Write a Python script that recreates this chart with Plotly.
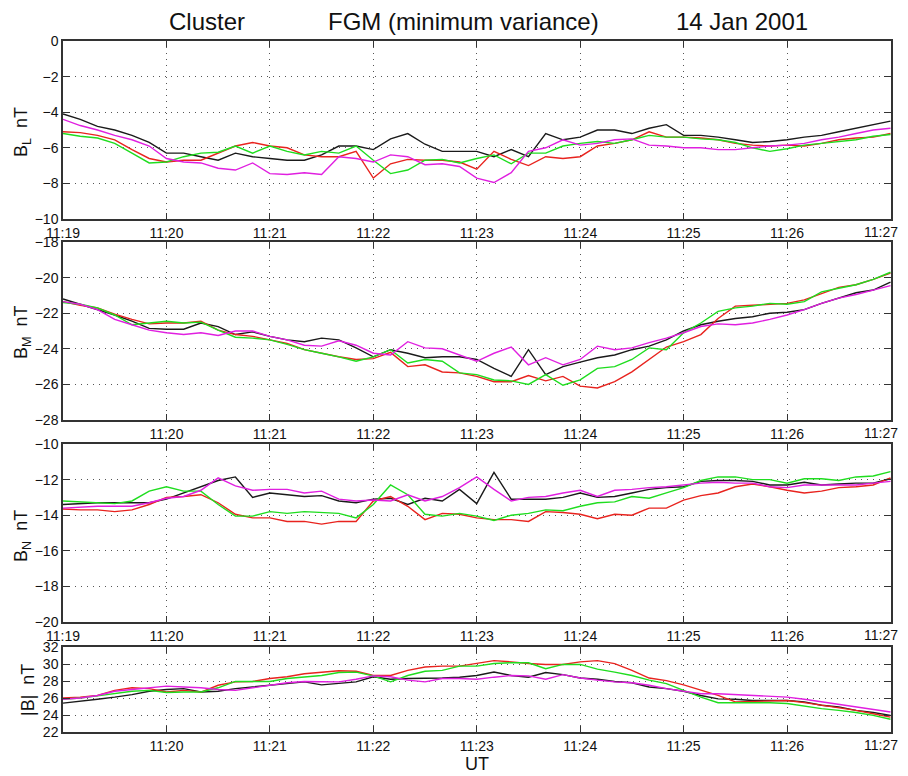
import pandas as pd
import plotly.graph_objects as go
from plotly.subplots import make_subplots

# Cluster FGM, 14 Jan 2001, minimum variance frame; one sample every 10 s, 11:19:00-11:27:00 UT
times = pd.date_range("2001-01-14 11:19:00", "2001-01-14 11:27:00", freq="10s")

minute_ticks = ["2001-01-14 11:%02d" % m for m in range(19, 28)]
minute_labels = ["11:19", "11:20", "11:21", "11:22", "11:23", "11:24", "11:25", "11:26", "11:27"]
x_range = ["2001-01-14 11:19:00", "2001-01-14 11:27:00.3"]

# B_L (nT)
bl_c1 = [-4.1, -4.4, -4.8, -5.0, -5.3, -5.7, -6.3, -6.3, -6.5, -6.7, -6.3, -6.5, -6.6, -6.7, -6.7, -6.4,
         -5.9, -5.9, -6.1, -5.5, -5.2, -5.8, -6.2, -6.2, -6.2, -6.5, -6.1, -6.5, -5.2, -5.55, -5.4, -5.0,
         -5.0, -5.2, -4.9, -4.7, -5.3, -5.3, -5.4, -5.55, -5.7, -5.65, -5.55, -5.4, -5.3, -5.1, -4.9, -4.7, -4.5]
bl_c2 = [-5.1, -5.15, -5.3, -5.55, -6.1, -6.6, -6.8, -6.7, -6.7, -6.3, -5.9, -5.7, -5.9, -6.0, -6.4, -6.5,
         -6.5, -6.2, -7.7, -6.9, -6.65, -6.7, -6.7, -6.8, -7.2, -6.2, -6.65, -7.0, -6.5, -6.6, -6.5, -5.9,
         -5.75, -5.55, -5.1, -5.4, -5.4, -5.45, -5.55, -5.75, -5.85, -5.9, -5.85, -5.9, -5.75, -5.55, -5.45, -5.4, -5.2]
bl_c3 = [-5.2, -5.35, -5.45, -5.75, -6.3, -6.85, -6.8, -6.5, -6.3, -6.25, -5.9, -6.3, -5.9, -6.2, -6.4, -6.2,
         -6.3, -5.9, -6.7, -7.45, -7.25, -6.7, -6.65, -6.85, -6.6, -6.4, -6.9, -6.3, -6.3, -5.9, -5.75, -5.65,
         -5.75, -5.55, -5.3, -5.4, -5.4, -5.5, -5.55, -5.7, -6.0, -6.2, -6.05, -5.85, -5.75, -5.65, -5.55, -5.35, -5.25]
bl_c4 = [-4.4, -4.75, -5.0, -5.3, -5.55, -5.9, -6.6, -6.8, -6.85, -7.15, -7.25, -6.85, -7.45, -7.5, -7.4, -7.5,
         -6.5, -6.6, -6.8, -6.4, -6.5, -6.95, -6.9, -7.05, -7.7, -7.95, -7.4, -6.2, -6.0, -5.55, -5.85, -5.75,
         -5.55, -5.5, -5.85, -5.9, -6.0, -6.0, -6.1, -6.1, -6.0, -5.9, -5.85, -5.75, -5.55, -5.4, -5.2, -5.0, -4.9]

# B_M (nT)
bm_c1 = [-21.2, -21.5, -21.8, -22.1, -22.45, -22.85, -22.9, -22.9, -22.55, -22.75, -23.2, -23.05, -23.3, -23.5,
         -23.6, -23.4, -23.5, -23.95, -24.45, -24.05, -24.25, -24.5, -24.45, -24.45, -24.6, -25.1, -25.55, -24.05,
         -25.45, -25.0, -24.75, -24.5, -24.35, -24.05, -23.85, -23.5, -23.0, -22.65, -22.45, -22.3, -22.2, -22.0,
         -21.95, -21.8, -21.45, -21.15, -20.85, -20.7, -20.25]
bm_c2 = [-21.35, -21.55, -21.7, -22.05, -22.35, -22.6, -22.55, -22.55, -22.45, -22.95, -23.2, -23.3, -23.5, -23.7,
         -24.05, -24.25, -24.45, -24.6, -24.55, -24.2, -25.0, -24.9, -25.3, -25.35, -25.55, -25.85, -25.85, -25.5,
         -25.8, -25.55, -26.1, -26.2, -25.85, -25.3, -24.6, -23.9, -23.6, -23.2, -22.3, -21.6, -21.55, -21.5,
         -21.45, -21.25, -20.9, -20.55, -20.4, -20.1, -19.75]
bm_c3 = [-21.4, -21.5, -21.7, -22.1, -22.65, -22.55, -22.45, -22.55, -22.5, -22.95, -23.35, -23.4, -23.5, -23.75,
         -24.05, -24.25, -24.45, -24.7, -24.45, -24.05, -24.8, -24.6, -24.7, -25.35, -25.45, -25.75, -25.8, -26.0,
         -25.45, -26.05, -25.75, -25.1, -25.0, -24.6, -23.95, -24.05, -23.1, -22.55, -21.9, -21.7, -21.6, -21.45,
         -21.5, -21.35, -20.8, -20.6, -20.4, -20.1, -19.7]
bm_c4 = [-21.35, -21.5, -21.8, -22.35, -22.65, -22.95, -23.1, -23.2, -23.1, -23.25, -23.0, -23.0, -23.3, -23.5,
         -23.8, -23.85, -23.55, -23.8, -24.25, -24.35, -23.6, -23.95, -24.0, -24.35, -24.7, -24.25, -23.9, -24.9,
         -24.5, -24.9, -24.6, -23.85, -24.05, -23.95, -23.65, -23.4, -23.1, -22.75, -22.6, -22.65, -22.55, -22.35,
         -22.1, -21.8, -21.45, -21.15, -20.95, -20.7, -20.45]

# B_N (nT)
bn_c1 = [-13.4, -13.35, -13.3, -13.3, -13.3, -13.3, -13.1, -12.75, -12.4, -12.05, -11.85, -13.0, -12.75, -12.85,
         -12.95, -12.9, -13.2, -13.3, -13.1, -13.05, -13.4, -13.05, -13.2, -12.55, -13.35, -11.6, -13.1, -13.1,
         -13.1, -13.0, -12.75, -13.0, -12.95, -12.75, -12.55, -12.45, -12.4, -12.1, -12.05, -12.05, -12.1, -12.3,
         -12.3, -12.15, -12.3, -12.25, -12.2, -12.2, -11.95]
bn_c2 = [-13.65, -13.7, -13.7, -13.8, -13.7, -13.4, -13.0, -12.95, -12.85, -13.3, -13.95, -14.15, -14.15, -14.35,
         -14.35, -14.5, -14.35, -14.35, -13.2, -12.95, -13.5, -14.25, -13.9, -13.95, -14.15, -14.25, -14.25, -14.35,
         -13.8, -13.85, -13.95, -14.2, -13.95, -14.0, -13.6, -13.6, -13.15, -12.9, -12.75, -12.4, -12.25, -12.4,
         -12.6, -12.75, -12.65, -12.45, -12.4, -12.3, -11.9]
bn_c3 = [-13.2, -13.25, -13.3, -13.35, -13.2, -12.65, -12.4, -12.65, -12.65, -13.4, -14.05, -14.05, -13.8, -13.9,
         -13.8, -13.85, -13.9, -14.15, -13.4, -12.3, -12.85, -13.95, -14.05, -13.9, -14.05, -14.3, -14.0, -13.9,
         -13.7, -13.75, -13.5, -13.3, -13.25, -12.95, -13.05, -12.75, -12.45, -12.05, -11.85, -11.85, -12.0, -12.0,
         -12.2, -11.95, -11.95, -12.05, -11.85, -11.8, -11.55]
bn_c4 = [-13.6, -13.55, -13.5, -13.5, -13.5, -13.3, -13.05, -12.95, -12.6, -11.9, -12.35, -12.6, -12.55, -12.55,
         -12.75, -12.65, -13.1, -13.2, -13.15, -13.2, -12.85, -13.2, -12.95, -12.45, -11.85, -12.55, -13.2, -13.0,
         -12.95, -12.75, -12.6, -12.95, -12.6, -12.55, -12.45, -12.4, -12.3, -12.2, -12.15, -12.2, -12.2, -12.4,
         -12.45, -12.3, -12.3, -12.3, -12.3, -12.2, -12.1]

# |B| (nT)
bt_c1 = [25.4, 25.6, 25.85, 26.1, 26.4, 26.8, 27.0, 27.1, 26.7, 26.8, 27.1, 27.3, 27.5, 27.7, 27.9, 27.55, 27.7,
         27.9, 28.5, 28.2, 28.3, 28.3, 28.35, 28.45, 28.65, 29.05, 28.65, 28.45, 29.0, 28.75, 28.35, 28.2, 27.95,
         27.8, 27.3, 27.1, 26.8, 26.3, 25.9, 25.85, 25.7, 25.7, 25.7, 25.55, 25.15, 24.95, 24.55, 24.3, 23.95]
bt_c2 = [26.0, 26.1, 26.3, 26.9, 27.2, 27.1, 26.7, 26.9, 26.7, 27.5, 27.9, 27.95, 28.3, 28.5, 28.85, 29.05, 29.2,
         29.15, 28.65, 28.65, 29.25, 29.65, 29.75, 29.75, 30.05, 30.4, 30.25, 30.05, 29.95, 29.95, 30.25, 30.4,
         30.05, 29.25, 28.35, 28.05, 27.55, 26.9, 26.3, 25.55, 25.6, 25.6, 25.7, 25.45, 25.15, 24.8, 24.55, 24.15, 23.75]
bt_c3 = [25.85, 26.0, 26.25, 26.5, 26.8, 26.9, 26.65, 26.7, 26.7, 27.2, 27.95, 27.95, 27.95, 28.3, 28.5, 28.65,
         29.0, 29.05, 28.6, 27.9, 28.65, 29.15, 29.25, 29.75, 29.75, 30.05, 30.15, 30.15, 29.45, 29.95, 29.95, 29.4,
         29.05, 28.65, 28.1, 27.7, 26.9, 26.1, 25.45, 25.45, 25.45, 25.45, 25.35, 25.05, 24.75, 24.55, 24.3, 23.95, 23.5]
bt_c4 = [25.85, 26.0, 26.3, 26.8, 27.0, 27.2, 27.4, 27.3, 27.2, 27.0, 26.9, 27.2, 27.5, 27.8, 27.95, 27.95, 27.9,
         28.2, 28.6, 28.5, 28.1, 27.9, 28.3, 28.3, 28.2, 28.45, 28.65, 28.6, 28.2, 28.75, 28.35, 28.1, 27.9, 27.8,
         27.5, 27.1, 26.8, 26.5, 26.5, 26.4, 26.3, 26.25, 26.1, 25.85, 25.55, 25.25, 24.95, 24.65, 24.35]

sc_colors = ["#1a1a1a", "#e8231e", "#1fdd1f", "#e01fe0"]
panels = [
    ([bl_c1, bl_c2, bl_c3, bl_c4], [-10, 0], "B<sub>L</sub>  nT", True),
    ([bm_c1, bm_c2, bm_c3, bm_c4], [-28, -18], "B<sub>M</sub>  nT", False),
    ([bn_c1, bn_c2, bn_c3, bn_c4], [-20, -10], "B<sub>N</sub>  nT", True),
    ([bt_c1, bt_c2, bt_c3, bt_c4], [22, 32], "|B|  nT", False),
]

# the page body puts the figure 8 px in from the window corner
W, H, OFF = 900, 768, 8
L, R = 55, 17
PW = W - L - R


def fy(py):
    # window pixel row -> paper fraction
    return 1 - (py - OFF) / H


def fx(px):
    return (px - OFF - L) / PW


# panel edges in window pixels (top, bottom), and y label centres
panel_px = [(41, 219), (242, 420), (444, 622), (647, 732)]
label_px = [(22, 132), (22, 332), (22, 536), (28, 690)]

FONT = "Liberation Sans, Arial, Helvetica, sans-serif"

fig = make_subplots(rows=4, cols=1)

for i, (series, yr, ylab, first_tick) in enumerate(panels):
    row = i + 1
    for vals, col in zip(series, sc_colors):
        fig.add_trace(go.Scatter(x=times, y=vals, mode="lines",
                                 line=dict(color=col, width=1.4), showlegend=False),
                      row=row, col=1)
    top, bot = panel_px[i]
    # last label (11:27) sits at the right window edge, so it is drawn as a right-aligned note
    tv = minute_ticks if first_tick else minute_ticks[1:]
    tt = (minute_labels if first_tick else minute_labels[1:])[:-1] + [""]
    fig.update_xaxes(range=x_range, tickvals=tv, ticktext=tt,
                     showgrid=True, gridcolor="#555", griddash="1px,5px", gridwidth=1,
                     ticks="inside", ticklen=6, tickcolor="#333", showline=True, linecolor="#333",
                     linewidth=1.5, mirror="ticks", zeroline=False, automargin=False,
                     tickfont=dict(size=14, color="#111"), row=row, col=1)
    fig.add_annotation(text=minute_labels[-1], xref="paper", yref="paper", x=1, y=fy(bot + 13),
                       xanchor="right", yanchor="middle", xshift=9, showarrow=False,
                       font=dict(size=14, color="#111"))
    yt = list(range(yr[0], yr[1] + 1, 2))
    fig.update_yaxes(range=yr, tickvals=yt, showgrid=True, gridcolor="#555", griddash="1px,5px",
                     gridwidth=1, ticks="inside", ticklen=7, tickcolor="#333", showline=True,
                     linecolor="#333", linewidth=1.5, mirror="ticks", zeroline=False, automargin=False,
                     tickfont=dict(size=14, color="#111"), row=row, col=1)
    fig.layout["yaxis" + ("" if row == 1 else str(row))].domain = [fy(bot), fy(top)]
    lx, ly = label_px[i]
    fig.add_annotation(text=ylab, xref="paper", yref="paper", x=fx(lx), y=fy(ly),
                       xanchor="center", yanchor="middle", textangle=-90, showarrow=False,
                       font=dict(size=18, color="#111"))

# header texts
for txt, px in [("Cluster", 207), ("FGM (minimum variance)", 463), ("14 Jan 2001", 742)]:
    fig.add_annotation(text=txt, xref="paper", yref="paper", x=fx(px), y=fy(21),
                       xanchor="center", yanchor="middle", showarrow=False,
                       font=dict(size=24, color="#111"))
fig.add_annotation(text="UT", xref="paper", yref="paper", x=fx(477), y=fy(764),
                   xanchor="center", yanchor="middle", showarrow=False,
                   font=dict(size=18, color="#111"))

fig.update_layout(width=W, height=H, margin=dict(l=L, r=R, t=0, b=0, autoexpand=False),
                  paper_bgcolor="white", plot_bgcolor="white", font=dict(family=FONT))
fig.write_html("out.html")
